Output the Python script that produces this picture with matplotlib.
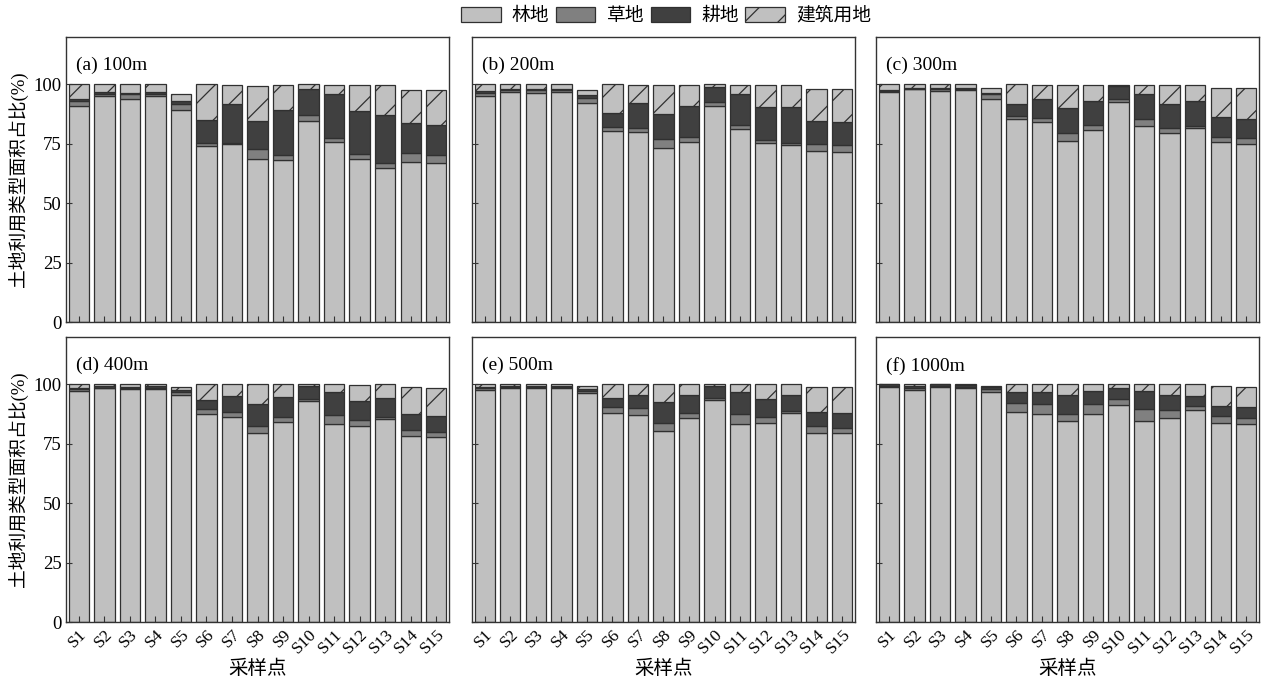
import numpy as np
import matplotlib
matplotlib.use("Agg")
import matplotlib.pyplot as plt
from matplotlib.patches import Patch

plt.rcParams['font.family'] = ['Liberation Serif', 'Noto Sans CJK SC', 'DejaVu Sans']
plt.rcParams['hatch.linewidth'] = 0.9

sites = ["S%d" % i for i in range(1, 16)]
panel_titles = ["(a) 100m", "(b) 200m", "(c) 300m", "(d) 400m", "(e) 500m", "(f) 1000m"]
legend_labels = ["林地", "草地", "耕地", "建筑用地"]

# 林地
forest = [
    [91.0, 94.9, 93.6, 94.9, 89.0, 73.9, 74.7, 68.4, 68.3, 84.4, 75.7, 68.6, 64.7, 67.4, 67.0],
    [95.1, 96.9, 96.3, 96.6, 92.1, 80.3, 80.1, 73.3, 75.9, 90.9, 81.1, 75.3, 74.3, 72.0, 71.7],
    [96.6, 97.9, 97.1, 97.6, 94.0, 85.3, 84.0, 76.3, 80.6, 92.4, 82.3, 79.3, 81.6, 75.6, 75.0],
    [97.3, 98.3, 98.1, 98.1, 95.6, 87.4, 86.3, 79.3, 84.1, 92.9, 83.3, 82.3, 85.6, 78.1, 77.7],
    [97.7, 98.6, 98.6, 98.4, 96.3, 88.0, 87.1, 80.4, 85.7, 93.3, 83.3, 83.7, 88.0, 79.7, 79.4],
    [98.7, 97.7, 99.0, 98.3, 96.9, 88.4, 87.6, 84.6, 87.7, 91.4, 84.6, 85.7, 89.1, 83.9, 83.1],
]
# 草地
grass = [
    [2.1, 1.1, 2.4, 1.1, 2.9, 1.4, 0.6, 4.2, 1.8, 2.6, 1.6, 2.0, 2.0, 3.6, 3.4],
    [1.2, 0.7, 1.3, 0.8, 2.3, 1.7, 1.5, 3.8, 1.8, 1.8, 1.8, 1.4, 1.1, 3.0, 2.6],
    [0.5, 0.3, 0.8, 0.4, 1.9, 1.4, 1.9, 3.3, 2.3, 1.6, 3.0, 2.3, 1.0, 2.4, 2.6],
    [0.6, 0.3, 0.5, 0.5, 1.1, 2.0, 2.1, 3.1, 2.2, 1.1, 3.8, 2.6, 0.7, 2.6, 2.3],
    [0.6, 0.2, 0.2, 0.3, 0.8, 2.4, 2.8, 3.2, 2.3, 0.8, 4.0, 2.6, 0.9, 2.6, 2.3],
    [0.4, 0.9, 0.1, 0.4, 1.0, 3.9, 4.1, 2.8, 3.9, 2.5, 5.0, 3.4, 1.6, 2.7, 2.6],
]
# 耕地
crop = [
    [0.9, 0.6, 0.3, 0.7, 1.2, 9.7, 16.6, 12.0, 18.9, 11.0, 18.6, 18.3, 20.4, 12.6, 12.5],
    [0.8, 0.5, 0.3, 0.7, 0.9, 6.1, 10.7, 10.2, 13.3, 6.2, 13.1, 13.6, 15.2, 9.6, 9.7],
    [0.6, 0.4, 0.4, 0.3, 0.5, 4.9, 7.7, 10.4, 10.2, 5.1, 10.8, 10.3, 10.3, 8.1, 7.8],
    [0.7, 0.7, 0.4, 0.5, 0.7, 3.9, 6.6, 9.5, 8.4, 5.1, 9.5, 8.2, 8.1, 6.9, 6.7],
    [0.6, 0.6, 0.5, 0.4, 0.9, 4.0, 5.8, 9.1, 7.7, 5.0, 9.3, 7.7, 6.8, 6.1, 6.2],
    [0.9, 0.8, 0.9, 1.2, 0.8, 4.3, 4.9, 7.9, 5.5, 4.5, 7.5, 6.3, 4.3, 4.3, 4.6],
]
# 建筑用地
built = [
    [6.0, 3.4, 3.7, 3.3, 3.0, 15.0, 7.8, 14.8, 10.6, 2.0, 3.8, 10.7, 12.5, 14.0, 14.5],
    [2.9, 1.9, 2.1, 1.9, 2.3, 11.9, 7.4, 12.4, 8.7, 1.1, 3.7, 9.4, 9.1, 13.3, 13.9],
    [2.3, 1.4, 1.7, 1.7, 2.2, 8.4, 6.1, 9.7, 6.6, 0.8, 3.6, 7.8, 6.8, 12.2, 12.9],
    [1.4, 0.7, 1.0, 0.9, 1.5, 6.7, 5.0, 8.1, 5.3, 0.9, 3.4, 6.5, 5.6, 11.3, 11.9],
    [1.1, 0.6, 0.7, 0.9, 1.1, 5.6, 4.3, 7.3, 4.3, 0.9, 3.4, 6.0, 4.3, 10.5, 11.0],
    [0.0, 0.6, 0.0, 0.1, 0.7, 3.4, 3.4, 4.7, 2.9, 1.6, 2.9, 4.6, 5.0, 8.4, 8.7],
]

c_forest = '#c0c0c0'
c_grass = '#808080'
c_crop = '#404040'
c_built = '#c0c0c0'
edge = '#303030'

fig = plt.figure(figsize=(12.67, 6.84), dpi=100)

lefts = [0.0521, 0.3725, 0.6914]
bottoms = [0.5292, 0.0906]
w = 0.3023
h = 0.4171

x = np.arange(len(sites))
bw = 0.8

for k in range(6):
    r, c = divmod(k, 3)
    ax = fig.add_axes([lefts[c], bottoms[r], w, h])
    f = np.array(forest[k])
    g = np.array(grass[k])
    cr = np.array(crop[k])
    b = np.array(built[k])
    ax.bar(x, f, bw, color=c_forest, edgecolor=edge, linewidth=0.9)
    ax.bar(x, g, bw, bottom=f, color=c_grass, edgecolor=edge, linewidth=0.9)
    ax.bar(x, cr, bw, bottom=f + g, color=c_crop, edgecolor=edge, linewidth=0.9)
    ax.bar(x, b, bw, bottom=f + g + cr, color=c_built, edgecolor=edge,
           linewidth=0.9, hatch='/')
    ax.set_xlim(-0.5, len(sites) - 0.5)
    ax.set_ylim(0, 120)
    ax.set_yticks([0, 25, 50, 75, 100])
    ax.set_xticks(x)
    ax.tick_params(direction='in', length=4, width=0.8, color='#333333',
                   labelsize=13.5, pad=3)
    for s in ax.spines.values():
        s.set_linewidth(1.0)
        s.set_color('#333333')
    ax.text(0.025, 0.93, panel_titles[k], transform=ax.transAxes,
            fontsize=14, ha='left', va='top')
    if c == 0:
        ax.set_ylabel("土地利用类型面积占比(%)", fontsize=13.5, labelpad=4)
    else:
        ax.set_yticklabels([])
    if r == 1:
        ax.set_xticklabels(sites, rotation=45, ha='right', rotation_mode='anchor',
                           fontsize=12.5)
        ax.set_xlabel("采样点", fontsize=14, labelpad=2)
    else:
        ax.set_xticklabels([])

handles = [
    Patch(facecolor=c_forest, edgecolor=edge, linewidth=0.9),
    Patch(facecolor=c_grass, edgecolor=edge, linewidth=0.9),
    Patch(facecolor=c_crop, edgecolor=edge, linewidth=0.9),
    Patch(facecolor=c_built, edgecolor=edge, linewidth=0.9, hatch='/'),
]
fig.legend(handles, legend_labels, loc='center', bbox_to_anchor=(0.5257, 0.977),
           ncol=4, frameon=False, fontsize=13.5, handlelength=2.1, handleheight=0.9,
           columnspacing=0.35, handletextpad=0.6, borderpad=0.2)

fig.savefig("out.png", dpi=100)
